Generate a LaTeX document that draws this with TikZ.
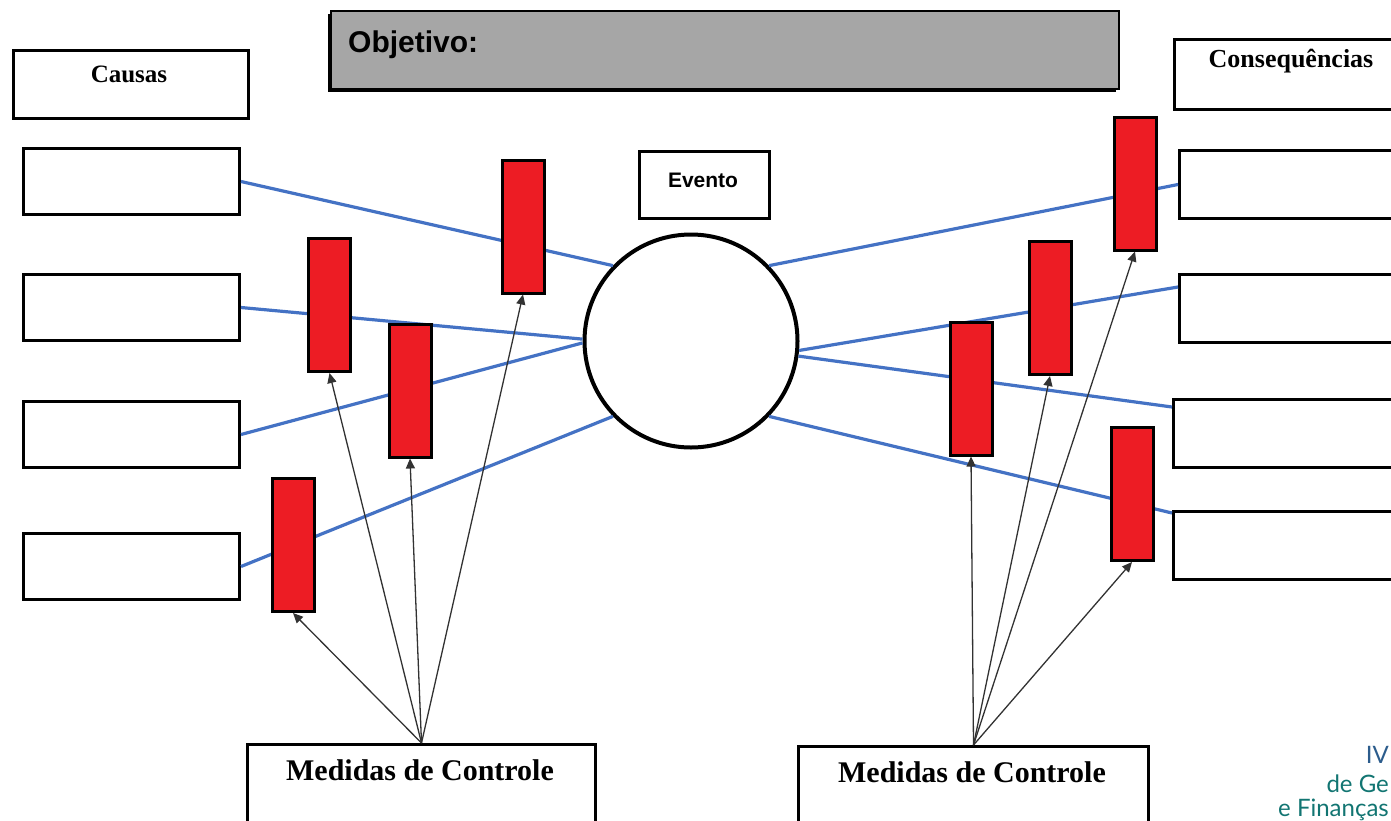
\documentclass[tikz,border=0pt]{standalone}
\usepackage{fontspec}
\setmainfont{Liberation Serif}
\newfontfamily\arialFont{Liberation Sans}
\newfontfamily\markFont{Lato}
\usetikzlibrary{positioning,arrows.meta,shadows}
\definecolor{lineBlue}{RGB}{68,114,196}
\definecolor{barRed}{RGB}{237,28,36}
\definecolor{goalGray}{RGB}{166,166,166}
\definecolor{arrowGray}{RGB}{50,50,50}
\definecolor{markBlue}{RGB}{44,92,140}
\definecolor{markTeal}{RGB}{18,117,114}
\tikzstyle{pixels} = [x = 1pt, y = -1pt]
\tikzstyle{boxStyle} = [draw=black, fill=white, line width=3pt, inner sep=0pt, anchor=north west]
\tikzstyle{goalStyle} = [draw=black, fill=goalGray, line width=2pt, inner sep=0pt, anchor=north west, drop shadow={shadow xshift=-3pt, shadow yshift=-3pt, fill=black, opacity=1}]
\tikzstyle{barStyle} = [draw=black, fill=barRed, line width=3pt, inner sep=0pt, minimum width=42pt, minimum height=133pt]
\tikzstyle{eventStyle} = [draw=black, fill=white, circle, line width=4pt, inner sep=0pt, minimum size=213pt]
\tikzstyle{riskLine} = [color=lineBlue, line width=3.2pt]
\tikzstyle{controlArrow} = [color=arrowGray, line width=1.3pt, -{Triangle[length=10pt, width=9pt]}]
\tikzstyle{serifText} = [inner sep=0pt, anchor=base]
\tikzstyle{markText} = [inner sep=0pt, anchor=base east]
\newcommand{\sized}[1]{\fontsize{#1}{#1}\selectfont}
\newcommand{\sideBox}[5]{\node [boxStyle, minimum width=#4, minimum height=#5] (#1) at (#2,#3) {};}
\newcommand{\controlBar}[3]{\node [barStyle] (#1) at (#2,#3) {};}

\begin{document}
\begin{tikzpicture}[pixels]
  \clip (0,0) rectangle (1391,820);
  \node [goalStyle, minimum width=788, minimum height=78] (goal) at (330,10) {};
  \node [inner sep=0pt, anchor=base west, font=\arialFont\bfseries\sized{30}] (goalText) at (348,52) {Objetivo:};

  \sideBox{causes}{12}{49}{235}{68}
  \node [serifText, font=\bfseries\sized{25}] (causesText) at (129,82) {Causas};
  \foreach \name/\boxTop in {cause1/147, cause2/273, cause3/400, cause4/532}
    \sideBox{\name}{22}{\boxTop}{216}{66};

  \sideBox{effects}{1173}{38}{240}{70}
  \node [serifText, font=\bfseries\sized{26}] (effectsText) at (1291,67) {Consequências};
  \foreach \name/\boxLeft/\boxTop in {effect1/1178/149, effect2/1178/273, effect3/1172/398, effect4/1172/510}
    \sideBox{\name}{\boxLeft}{\boxTop}{240}{68};

  \sideBox{eventLabel}{638}{150}{130}{67}
  \node [serifText, font=\arialFont\bfseries\sized{21}] (eventText) at (703,187) {Evento};
  \node [eventStyle] (event) at (691,341) {};

  \sideBox{controlLeft}{246}{743}{348}{100}
  \node [serifText, font=\bfseries\sized{30}] (controlLeftText) at (420,780) {Medidas de Controle};
  \sideBox{controlRight}{797}{745}{350}{100}
  \node [serifText, font=\bfseries\sized{30}] (controlRightText) at (972,782) {Medidas de Controle};

  \draw [riskLine] (cause1.east) -- (event.136);
  \draw [riskLine] (cause2.east) -- (event.179);
  \draw [riskLine] (cause3.east) -- (event.181);
  \draw [riskLine] (cause4.east) -- (event.224);
  \draw [riskLine] (event.44) -- (effect1.west);
  \draw [riskLine] (event.-5) -- ([yshift=-14pt]effect2.north west);
  \draw [riskLine] (event.-8) -- ([yshift=-9pt]effect3.north west);
  \draw [riskLine] (event.-44) -- ([yshift=-3pt]effect4.north west);

  \controlBar{bar1}{523}{226.5}
  \controlBar{bar2}{329.5}{305}
  \controlBar{bar3}{410}{390.5}
  \controlBar{bar4}{293}{545}
  \controlBar{bar5}{1135}{183.5}
  \controlBar{bar6}{1050}{308}
  \controlBar{bar7}{971}{388.5}
  \controlBar{bar8}{1132}{494}

  \foreach \target in {bar4, bar2, bar3, bar1}
    \draw [controlArrow] (controlLeft.north) -- (\target.south);
  \foreach \target in {bar7, bar6, bar5, bar8}
    \draw [controlArrow] (controlRight.north) -- (\target.south);

  \node [markText, font=\markFont\sized{24}, text=markBlue] (markLine1) at (1389,763) {IV};
  \node [markText, font=\markFont\sized{24}, text=markTeal] (markLine2) at (1389,792) {de Ge};
  \node [markText, font=\markFont\sized{24}, text=markTeal] (markLine3) at (1389,816) {e Finanças};
\end{tikzpicture}
\end{document}
